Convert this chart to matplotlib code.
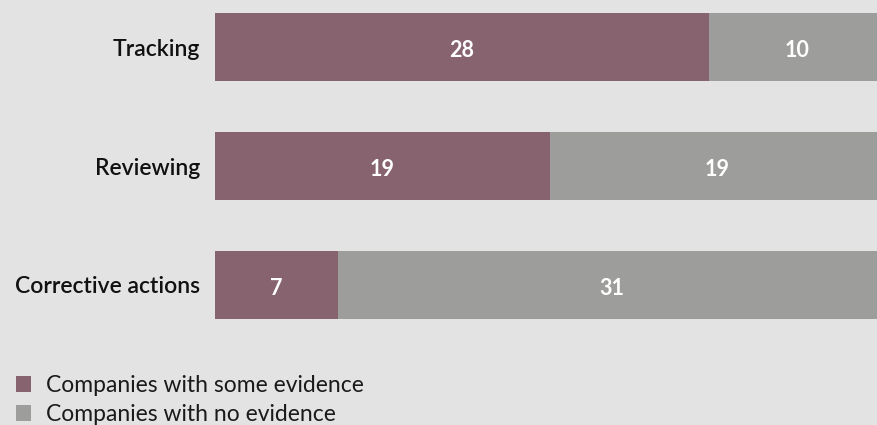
import matplotlib
matplotlib.use("Agg")
import matplotlib.pyplot as plt
from matplotlib.patches import Patch

categories = ["Tracking", "Reviewing", "Corrective actions"]
some_evidence = [28, 19, 7]
no_evidence = [10, 19, 31]
series_labels = ["Companies with some evidence", "Companies with no evidence"]

BG = "#e3e3e3"
PURPLE = "#87636f"
GRAY = "#9d9d9b"

plt.rcParams['font.family'] = ['Lato', 'DejaVu Sans']

fig = plt.figure(figsize=(8.78, 4.25), dpi=100, facecolor=BG)
W, H = 878, 425
left, right = 215, 885
top, bottom = 13 - 25.4, 319 + 25.4
ax = fig.add_axes([left / W, 1 - bottom / H, (right - left) / W, (bottom - top) / H])
ax.set_facecolor(BG)

y = list(range(len(categories)))
h = 0.573
ax.barh(y, some_evidence, height=h, color=PURPLE, linewidth=0)
ax.barh(y, no_evidence, left=some_evidence, height=h, color=GRAY, linewidth=0)

for i in y:
    ax.text(some_evidence[i] / 2, i + 0.01, str(some_evidence[i]), ha='center',
            va='center_baseline', color='white', fontsize=15.5, fontweight='bold')
    ax.text(some_evidence[i] + no_evidence[i] / 2, i + 0.01, str(no_evidence[i]), ha='center',
            va='center_baseline', color='white', fontsize=15.5, fontweight='bold')

ax.set_xlim(0, 38)
ax.set_ylim(len(categories) - 0.5, -0.5)
ax.set_yticks(y)
ax.set_yticklabels(categories, fontsize=16.5, fontweight='semibold', color='#111111',
                   va='center_baseline')
ax.tick_params(axis='y', length=0, pad=10.8)
ax.set_xticks([])
for s in ax.spines.values():
    s.set_visible(False)

handles = [Patch(facecolor=PURPLE, edgecolor='none'), Patch(facecolor=GRAY, edgecolor='none')]
leg = fig.legend(handles, series_labels, loc='upper left',
                 bbox_to_anchor=(16 / W, 1 - 375 / H), frameon=False,
                 fontsize=16.5, handlelength=0.65, handleheight=0.7, handletextpad=0.65,
                 labelspacing=0.37, borderpad=0, borderaxespad=0)
for t in leg.get_texts():
    t.set_color('#1a1a1a')

fig.savefig("out.png", dpi=100, facecolor=BG)
